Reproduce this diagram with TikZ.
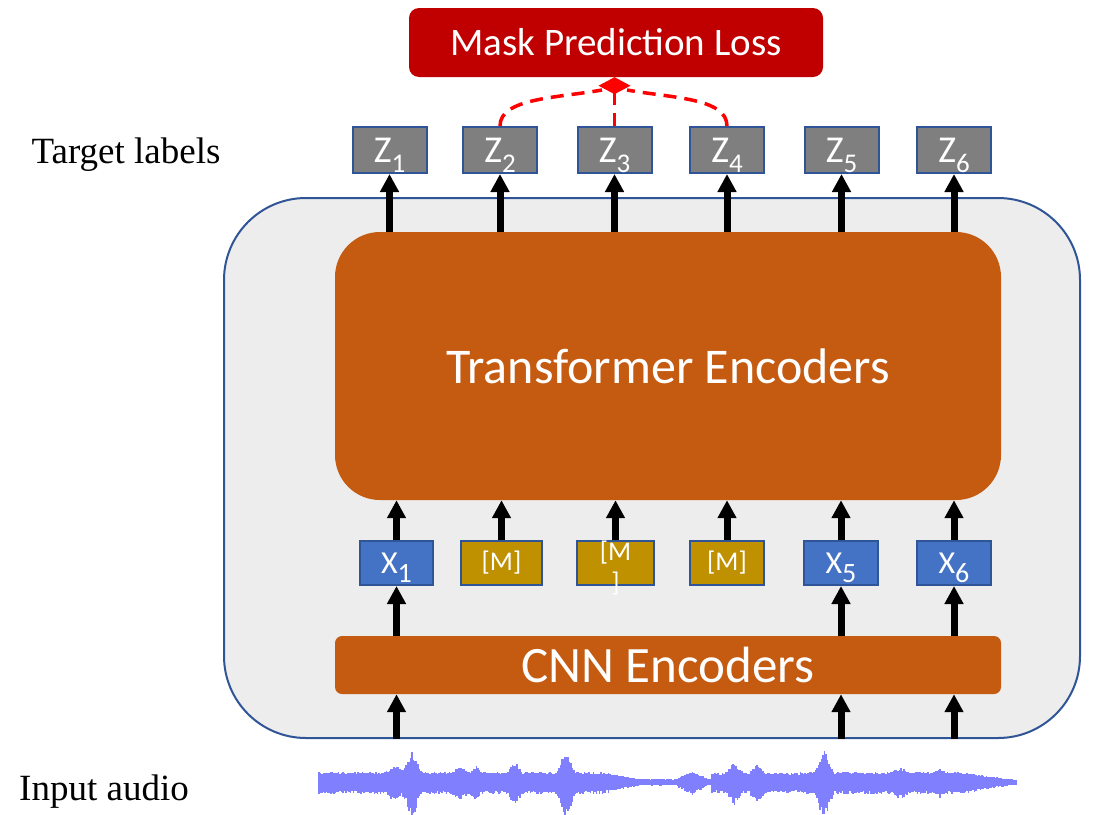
\documentclass[tikz,border=0pt]{standalone}
\usepackage{fontspec}
\setmainfont{Carlito}
\newfontfamily\serifface{Liberation Serif}
\usetikzlibrary{arrows.meta}

\definecolor{outerfill}{HTML}{EDEDED}
\definecolor{edgeblue}{HTML}{2F5597}
\definecolor{encorange}{HTML}{C55A11}
\definecolor{lossred}{HTML}{C00000}
\definecolor{zgray}{HTML}{7F7F7F}
\definecolor{xblue}{HTML}{4472C4}
\definecolor{mgold}{HTML}{BF9000}
\definecolor{wavecol}{RGB}{128,128,255}

% label helpers: capital letter with a large, lowered index
\newcommand\zlab[1]{\fontsize{38}{38}\selectfont Z\smash{\raisebox{-10pt}{\fontsize{27}{27}\selectfont #1}}}
\newcommand\xlab[1]{\fontsize{32}{32}\selectfont X\smash{\raisebox{-9pt}{\fontsize{28}{28}\selectfont #1}}}

\tikzset{
  pane/.style={draw=edgeblue, line width=2pt, fill=outerfill, rounded corners=82pt,
    minimum width=856pt, minimum height=540pt, inner sep=0pt},
  encoder/.style={fill=encorange, text=white, inner sep=0pt, minimum width=666pt},
  lossbox/.style={fill=lossred, text=white, rounded corners=10pt, inner sep=0pt,
    minimum width=414pt, minimum height=69pt, font=\fontsize{39}{39}\selectfont},
  tok/.style={draw=edgeblue, line width=2pt, text=white, inner sep=0pt, minimum height=44pt},
  zbox/.style={tok, fill=zgray, minimum width=74pt, minimum height=46pt},
  xbox/.style={tok, fill=xblue, minimum width=73pt},
  mbox/.style={tok, fill=mgold, font=\fontsize{27}{27}\selectfont},
  arr/.style={line width=7pt, -{Triangle[length=18pt,width=18pt]}},
  rdash/.style={draw={rgb,255:red,255;green,0;blue,0}, line width=3.5pt, dash pattern=on 13pt off 8pt},
  caption/.style={font=\serifface\fontsize{37}{37}\selectfont, inner sep=0pt},
}

\begin{document}
\begin{tikzpicture}[x=1pt, y=-1pt]
\useasboundingbox (0,0) rectangle (1094,814);

% outer module and the two encoders
\node[pane] (outer) at (652,468) {};
\node[encoder, rounded corners=45pt, minimum height=268pt,
      font=\fontsize{50}{50}\selectfont] (tr) at (668,366) {Transformer Encoders};
\node[encoder, rounded corners=7pt, minimum height=58pt,
      font=\fontsize{51}{51}\selectfont] (cnn) at (668,665) {CNN Encoders};

% loss box
\node[lossbox] (loss) at (616,42.5) {Mask Prediction Loss};

% target label boxes
\node[zbox] (z1) at (389.5,150) {\zlab{1}};
\node[zbox] (z2) at (500,150)   {\zlab{2}};
\node[zbox] (z3) at (614.5,150) {\zlab{3}};
\node[zbox] (z4) at (727,150)   {\zlab{4}};
\node[zbox] (z5) at (841.5,150) {\zlab{5}};
\node[zbox] (z6) at (954,150)   {\zlab{6}};

% input tokens, masked ones in gold
\node[xbox] (x1) at (396.5,563) {\raisebox{-4pt}{\xlab{1}}};
\node[mbox, minimum width=81pt] (m2) at (501.5,563) {[M]};
\node[mbox, minimum width=77pt] (m3) at (615.5,563)
      {\makebox[0pt]{\smash{\raisebox{3pt}{[M}}}\makebox[0pt]{\smash{\raisebox{-28pt}{]}}}};
\node[mbox, minimum width=74pt] (m4) at (727,563) {[M]};
\node[xbox, minimum width=74pt] (x5) at (841,563) {\raisebox{-4pt}{\xlab{5}}};
\node[xbox, minimum width=74pt] (x6) at (954,563) {\raisebox{-4pt}{\xlab{6}}};

% side captions
\node[caption] (tl) at (126,155) {Target labels};
\node[caption] (ia) at (104,792) {Input audio};

% encoder outputs to target labels
\foreach \z in {z1,z2,z3,z4,z5,z6}
  \draw[arr] (tr.north -| \z) -- (\z.south);

% tokens into the transformer
\foreach \t in {x1,m2,m3,m4,x5,x6}
  \draw[arr] (\t.north) -- (tr.south -| \t);

% CNN to the unmasked tokens, audio into the CNN
\foreach \t in {x1,x5,x6} {
  \draw[arr] (cnn.north -| \t) -- (\t.south);
  \draw[arr] (outer.south -| \t) -- (cnn.south -| \t);
}

% masked targets feed the loss
\coordinate (dl) at (602,90);
\coordinate (dr) at (627,90);
\draw[rdash] (z2.north) .. controls +(0,-28) and +(-45,8) .. (dl);
\draw[rdash] (z4.north) .. controls +(0,-28) and +(45,8) .. (dr);
\draw[rdash, -{Diamond[length=17pt,width=32pt]}] (z3.north) -- (z3.north |- loss.south);

% input waveform
\pgfmathsetseed{11}
\foreach \i in {0,...,465} {
  \pgfmathsetmacro\xx{319+1.5*\i}
  \pgfmathsetmacro\env{10*(\xx<600) + (\xx>=600)*(\xx<640)*(10-0.175*(\xx-600))
     + (\xx>=640)*(\xx<712)*3 + (\xx>=712)*(\xx<800)*9 + (\xx>=800)*(\xx<960)*10
     + (\xx>=960)*(10-0.14*(\xx-960))
     + 7*max(0,1-abs(\xx-395)/10) + 20*max(0,1-abs(\xx-412)/10)
     + 7*max(0,1-abs(\xx-460)/8) + 6*max(0,1-abs(\xx-476)/6)
     + 10*max(0,1-abs(\xx-515)/8) + 21*max(0,1-abs(\xx-566)/10)
     + 8*max(0,1-abs(\xx-692)/16) + 10*max(0,1-abs(\xx-734)/10)
     + 10*max(0,1-abs(\xx-757)/8) + 22*max(0,1-abs(\xx-824)/10)
     + 4*max(0,1-abs(\xx-900)/10) + 3*max(0,1-abs(\xx-940)/8)}
  \pgfmathsetmacro\up{\env*(0.82+0.2*rnd)}
  \pgfmathsetmacro\dn{\env*(0.9+0.35*rnd)}
  \draw[wavecol, line width=1.7pt] (\xx,{782-\up}) -- (\xx,{782+\dn});
}
\end{tikzpicture}
\end{document}
